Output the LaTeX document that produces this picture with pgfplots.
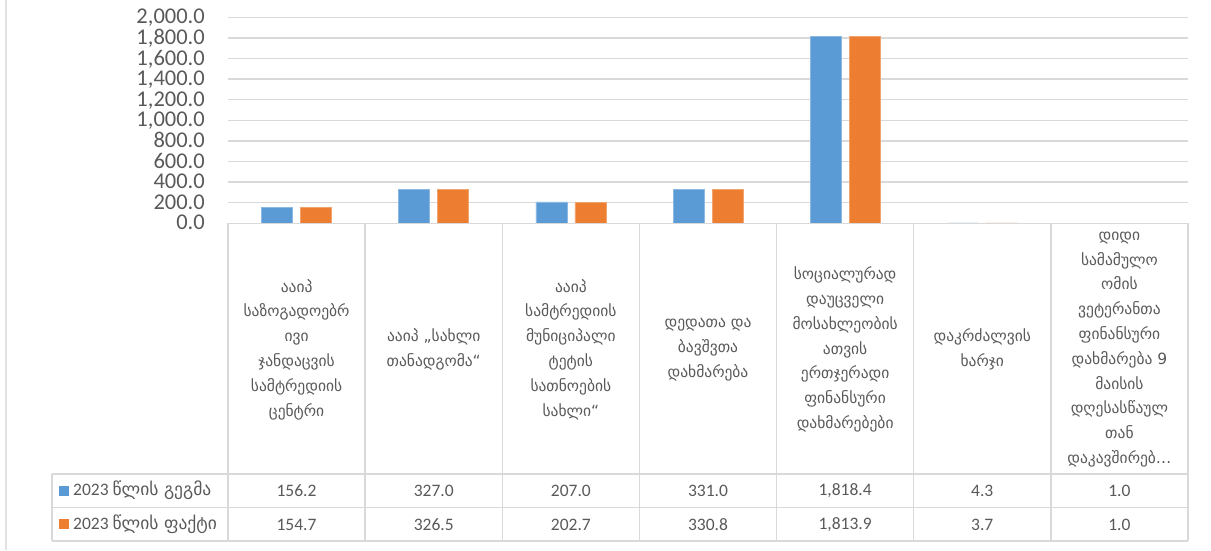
\documentclass[border=0pt]{standalone}
\usepackage{fontspec}
\setmainfont{Carlito}
\newfontfamily\geo{DejaVu Sans}
\usepackage{pgfplots}
\pgfplotsset{compat=1.18}
\definecolor{gridgray}{HTML}{D9D9D9}
\definecolor{txtgray}{HTML}{595959}
\definecolor{barblue}{HTML}{5B9BD5}
\definecolor{barorange}{HTML}{ED7D31}
\begin{document}
\begin{tikzpicture}[x=1pt,y=1pt]
\path[use as bounding box] (0,0) rectangle (1211,-550);
\draw[gridgray!80, line width=1.5pt] (6,0) -- (6,-550);
\begin{axis}[
  at={(228pt,-223.3pt)}, anchor=south west,
  scale only axis, width=960pt, height=206pt,
  xmin=-0.5, xmax=6.5, ymin=0, ymax=2000,
  ytick={0,200,...,2000}, xtick=\empty,
  ymajorgrids, grid style={gridgray, line width=1.3pt},
  axis line style={draw=none}, major tick length=0pt,
  ybar=8pt, bar width=31pt,
  yticklabel style={anchor=east, inner sep=0pt, xshift=-23pt, text height=14pt, text depth=1pt, font=\fontsize{22.5}{22.5}\selectfont, text=txtgray},
  /pgf/number format/.cd, fixed, fixed zerofill, precision=1, 1000 sep={,}, assume math mode=true,
]
\addplot[fill=barblue, draw=barblue!70!white, line width=0.6pt] coordinates {(0,156.2) (1,327.0) (2,207.0) (3,331.0) (4,1818.4) (5,4.3) (6,1.0)};
\addplot[fill=barorange, draw=barorange!70!white, line width=0.6pt] coordinates {(0,154.7) (1,326.5) (2,202.7) (3,330.8) (4,1813.9) (5,3.7) (6,1.0)};
\end{axis}
% table grid
\begin{scope}[gridgray, line width=1.5pt]
\draw (228,-223.3) -- (1188,-223.3);
\foreach \k in {0,...,7} { \draw (228+\k*137.143,-223.3) -- (228+\k*137.143,-541); }
\draw (52,-474) -- (1188,-474);
\draw (52,-507.5) -- (1188,-507.5);
\draw (52,-541) -- (1188,-541);
\draw (52,-474) -- (52,-541);
\end{scope}
% category labels
\begin{scope}[every node/.style={align=center, text=txtgray, font=\geo\fontsize{15.5}{24.8}\selectfont, inner sep=0pt}]
\node at (296.57,-349.5) {ააიპ\\საზოგადოებრ\\ივი\\ჯანდაცვის\\სამტრედიის\\ცენტრი};
\node at (433.71,-349.5) {ააიპ „სახლი\\თანადგომა“};
\node at (570.86,-349.5) {ააიპ\\სამტრედიის\\მუნიციპალი\\ტეტის\\სათნოების\\სახლი“};
\node at (708.0,-349.5) {დედათა და\\ბავშვთა\\დახმარება};
\node at (845.14,-349.5) {სოციალურად\\დაუცველი\\მოსახლეობის\\ათვის\\ერთჯერადი\\ფინანსური\\დახმარებები};
\node at (982.29,-349.5) {დაკრძალვის\\ხარჯი};
\node at (1119.43,-349.5) {დიდი\\სამამულო\\ომის\\ვეტერანთა\\ფინანსური\\დახმარება 9\\მაისის\\დღესასწაულ\\თან\\დაკავშირებ…};
\end{scope}
% values
\begin{scope}[every node/.style={text=txtgray, font=\fontsize{17.5}{20}\selectfont, inner sep=0pt}]
\foreach \v [count=\i from 0] in {156.2,327.0,207.0,331.0,{1,818.4},4.3,1.0} { \node at (296.57+\i*137.143,-490.5) {\v}; }
\foreach \v [count=\i from 0] in {154.7,326.5,202.7,330.8,{1,813.9},3.7,1.0} { \node at (296.57+\i*137.143,-524.5) {\v}; }
\fill[barblue] (59,-485.5) rectangle (69,-495.5);
\fill[barorange] (59,-519) rectangle (69,-529);
\node[anchor=west] at (73,-490.5) {2023 {\geo\fontsize{17.5}{20}\selectfont წლის გეგმა}};
\node[anchor=west] at (73,-524.5) {2023 {\geo\fontsize{17.5}{20}\selectfont წლის ფაქტი}};
\end{scope}
\end{tikzpicture}
\end{document}
